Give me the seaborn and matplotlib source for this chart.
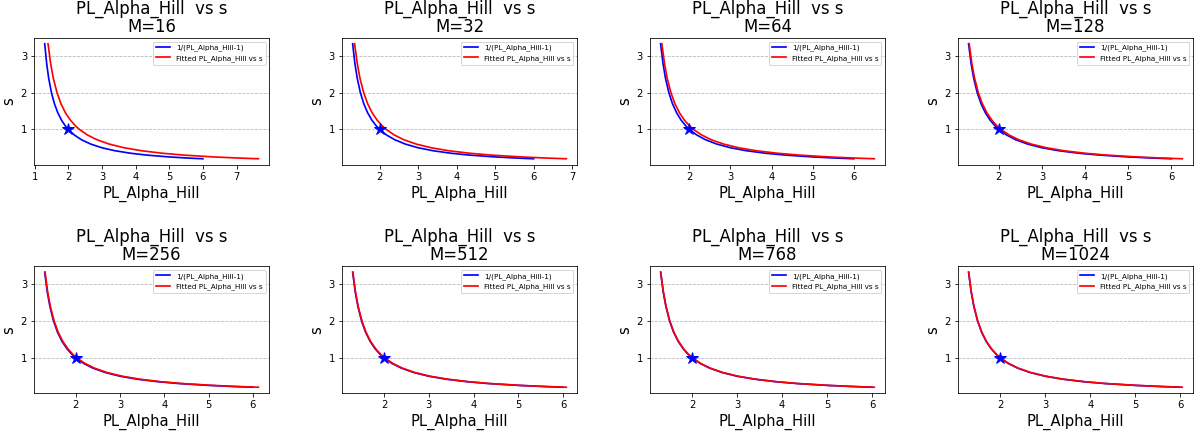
import numpy as np
import pandas as pd
import matplotlib
matplotlib.use("Agg")
import matplotlib.pyplot as plt
import seaborn as sns

# s values along the curves (y axis)
S_VALUES = [3.33, 2.8, 2.4, 2.0, 1.7, 1.45, 1.25, 1.1, 1.0, 0.85, 0.72,
            0.6, 0.5, 0.42, 0.35, 0.3, 0.25, 0.22, 0.2]

# blue curve: 1/(PL_Alpha_Hill-1), same in every panel
BLUE_ALPHA = [1.300, 1.357, 1.417, 1.500, 1.588, 1.690, 1.800, 1.909, 2.000,
              2.176, 2.389, 2.667, 3.000, 3.381, 3.857, 4.333, 5.000, 5.545, 6.000]

# red curves: fitted PL_Alpha_Hill vs s, one per M
M_VALUES = [16, 32, 64, 128, 256, 512, 768, 1024]
RED_M16 = [1.399, 1.475, 1.554, 1.665, 1.782, 1.917, 2.064, 2.209, 2.330,
           2.565, 2.847, 3.217, 3.660, 4.167, 4.800, 5.433, 6.320, 7.045, 7.650]
RED_M32 = [1.351, 1.418, 1.488, 1.585, 1.688, 1.807, 1.936, 2.064, 2.170,
           2.376, 2.625, 2.950, 3.340, 3.786, 4.343, 4.900, 5.680, 6.318, 6.850]
RED_M64 = [1.330, 1.393, 1.458, 1.550, 1.647, 1.759, 1.880, 2.000, 2.100,
           2.294, 2.528, 2.833, 3.200, 3.619, 4.143, 4.667, 5.400, 6.000, 6.500]
RED_M128 = [1.315, 1.375, 1.438, 1.525, 1.618, 1.724, 1.840, 1.955, 2.050,
            2.235, 2.458, 2.750, 3.100, 3.500, 4.000, 4.500, 5.200, 5.773, 6.250]
RED_M256 = [1.308, 1.366, 1.427, 1.513, 1.603, 1.707, 1.820, 1.932, 2.025,
            2.206, 2.424, 2.708, 3.050, 3.440, 3.929, 4.417, 5.100, 5.659, 6.125]
RED_M512 = [1.305, 1.363, 1.423, 1.508, 1.597, 1.700, 1.812, 1.923, 2.015,
            2.194, 2.410, 2.692, 3.030, 3.417, 3.900, 4.383, 5.060, 5.614, 6.075]
RED_M768 = [1.303, 1.361, 1.421, 1.505, 1.594, 1.697, 1.808, 1.918, 2.010,
            2.188, 2.403, 2.683, 3.020, 3.405, 3.886, 4.367, 5.040, 5.591, 6.050]
RED_M1024 = [1.303, 1.360, 1.420, 1.504, 1.593, 1.695, 1.806, 1.916, 2.008,
             2.186, 2.400, 2.680, 3.016, 3.400, 3.880, 4.360, 5.032, 5.582, 6.040]

STAR_ALPHA = 2.0
STAR_S = 1.0

red_curves = [RED_M16, RED_M32, RED_M64, RED_M128,
              RED_M256, RED_M512, RED_M768, RED_M1024]

DPI = 72
fig, axes = plt.subplots(2, 4, figsize=(1198 / DPI, 434 / DPI), dpi=DPI)
plt.subplots_adjust(left=0.0284, right=0.9958, top=0.9124, bottom=0.0945,
                    wspace=0.31, hspace=0.806)

for ax, m, red in zip(axes.flat, M_VALUES, red_curves):
    df = pd.DataFrame({'s': S_VALUES, 'blue': BLUE_ALPHA, 'red': red})
    sns.lineplot(data=df, x='blue', y='s', ax=ax, color='blue', sort=False,
                 estimator=None, linewidth=1.7, label='1/(PL_Alpha_Hill-1)')
    sns.lineplot(data=df, x='red', y='s', ax=ax, color='red', sort=False,
                 estimator=None, linewidth=1.7, label='Fitted PL_Alpha_Hill vs s')
    ax.plot([STAR_ALPHA], [STAR_S], marker='*', color='blue', markersize=13,
            linestyle='none')
    ax.set_title(f'PL_Alpha_Hill  vs s\nM={m}', fontsize=16.5, linespacing=1.0)
    ax.set_xlabel('PL_Alpha_Hill', fontsize=14.7)
    ax.set_ylabel('s', fontsize=14.7)
    ax.set_yticks([1, 2, 3])
    ax.tick_params(labelsize=10)
    ax.yaxis.grid(True, linestyle='--', color='#b8b8b8', linewidth=0.8)
    ax.legend(loc='upper right', fontsize=7.2)

plt.savefig('out.png', dpi=DPI)
plt.close()
